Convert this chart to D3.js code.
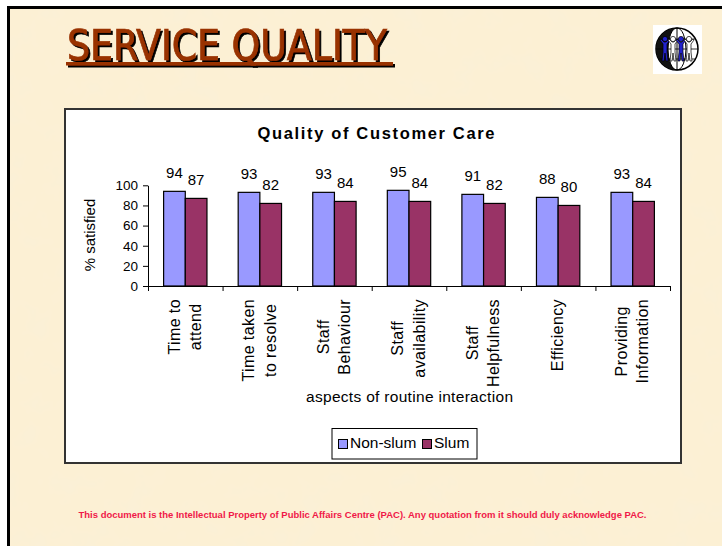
<!DOCTYPE html>
<html>
<head>
<meta charset="utf-8">
<script src="https://cdn.jsdelivr.net/npm/d3@7"></script>
<style>
    body { margin: 0; background: #fff; }
    svg { display: block; }
    text { font-family: "Liberation Sans", Arial, sans-serif; fill: #000; }
    .axis text { font-size: 13.5px; }
    .axis path, .axis line { stroke: #000; }
</style>
</head>
<body>
<svg id="plate" width="722" height="546"></svg>
<script>
// chart values
var categories = ['Time to|attend', 'Time taken|to resolve', 'Staff|Behaviour', 'Staff|availability', 'Staff|Helpfulness', 'Efficiency', 'Providing|Information'];
var nonSlum = [94, 93, 93, 95, 91, 88, 93];
var slum = [87, 82, 84, 84, 82, 80, 84];
var seriesNames = ['Non-slum', 'Slum'];
var seriesColors = ['#9999FF', '#993366'];
var yTicks = [0, 20, 40, 60, 80, 100];

var svg = d3.select('#plate');
var defs = svg.append('defs');

// parchment texture
var filt = defs.append('filter').attr('id', 'parch')
    .attr('x', 0).attr('y', 0).attr('width', '100%').attr('height', '100%');
filt.append('feTurbulence')
    .attr('type', 'fractalNoise')
    .attr('baseFrequency', '0.04')
    .attr('numOctaves', 3)
    .attr('seed', 7);
filt.append('feColorMatrix')
    .attr('type', 'matrix')
    .attr('values', '0 0 0 0 0.95  0 0 0 0 0.87  0 0 0 0 0.70  1.2 0 0 0 -0.58');

// title shadow
var shadow = defs.append('filter').attr('id', 'shadow')
    .attr('x', '-5%').attr('y', '-10%').attr('width', '110%').attr('height', '130%');
shadow.append('feOffset').attr('in', 'SourceAlpha').attr('dx', 2).attr('dy', 2).attr('result', 'off');
shadow.append('feFlood').attr('flood-color', '#000');
shadow.append('feComposite').attr('in2', 'off').attr('operator', 'in').attr('result', 'sh');
var merge = shadow.append('feMerge');
merge.append('feMergeNode').attr('in', 'sh');
merge.append('feMergeNode').attr('in', 'SourceGraphic');

svg.append('rect')
    .attr('x', 7).attr('y', 6).attr('width', 715).attr('height', 540)
    .attr('fill', '#FCF0D4');
svg.append('rect')
    .attr('x', 7).attr('y', 6).attr('width', 715).attr('height', 540)
    .attr('filter', 'url(#parch)');
svg.append('rect').attr('x', 7).attr('y', 6).attr('width', 715).attr('height', 3).attr('fill', '#000');
svg.append('rect').attr('x', 7).attr('y', 6).attr('width', 3).attr('height', 540).attr('fill', '#000');

// slide title with shadow and underline
var head = svg.append('g').attr('filter', 'url(#shadow)');
head.append('text')
    .attr('x', 67).attr('y', 60)
    .attr('textLength', 320).attr('lengthAdjust', 'spacingAndGlyphs')
    .style('font-family', '"Liberation Sans Narrow", "DejaVu Sans Condensed", sans-serif')
    .style('font-size', '42px')
    .style('fill', '#993300')
    .style('stroke', '#993300').style('stroke-width', 0.7)
    .text('SERVICE QUALITY');
head.append('rect')
    .attr('x', 66).attr('y', 62).attr('width', 327).attr('height', 3.5)
    .attr('fill', '#993300');

// logo
var logo = svg.append('g').attr('transform', 'translate(677,49)');
logo.append('rect').attr('x', -24).attr('y', -24).attr('width', 49).attr('height', 49).attr('fill', '#fff');
logo.append('circle').attr('r', 21).attr('fill', '#fff').attr('stroke', '#000').attr('stroke-width', 1.5);
logo.append('path').attr('d', 'M0,-21 A21,21 0 0,0 0,21 A9,21 0 0,1 0,-21Z').attr('fill', '#111');
logo.append('ellipse').attr('rx', 9).attr('ry', 21).attr('fill', 'none').attr('stroke', '#000');
logo.append('line').attr('x1', 0).attr('x2', 0).attr('y1', -21).attr('y2', 21).attr('stroke', '#000');
[-10, 0, 10].forEach(function (h) {
    var w = Math.sqrt(21 * 21 - h * h);
    logo.append('line').attr('x1', -w).attr('x2', w).attr('y1', h).attr('y2', h).attr('stroke', '#000').attr('stroke-width', 0.8);
});
[[-12, '#2222cc'], [-4, '#fff'], [4, '#2222cc'], [12, '#fff']].forEach(function (f) {
    var p = logo.append('g').attr('transform', 'translate(' + f[0] + ',0)');
    p.append('circle').attr('cy', -10).attr('r', 2.6).attr('fill', f[1]).attr('stroke', '#000').attr('stroke-width', 0.7);
    p.append('path')
        .attr('d', 'M-5,-9 L-2,-5 L-2,3 L-3,12 L-1,12 L0,4 L1,12 L3,12 L2,3 L2,-5 L5,-9 L4,-10 L1,-7 L-1,-7 L-4,-10Z')
        .attr('fill', f[1]).attr('stroke', '#000').attr('stroke-width', 0.7);
});

// chart frame
svg.append('rect')
    .attr('x', 65).attr('y', 109).attr('width', 616).attr('height', 354)
    .attr('fill', '#fff').attr('stroke', '#333').attr('stroke-width', 2);

svg.append('text')
    .attr('x', 376).attr('y', 138.5)
    .attr('text-anchor', 'middle')
    .attr('textLength', 237).attr('lengthAdjust', 'spacing')
    .style('font-weight', 'bold').style('font-size', '16.5px')
    .text('Quality of Customer Care');

// scales
var x = d3.scaleBand().domain(d3.range(categories.length)).range([148, 670]);
var xs = d3.scaleBand().domain(seriesNames).range([0, x.bandwidth()]).paddingOuter(0.72);
var y = d3.scaleLinear().domain([0, 100]).range([286, 185.3]);
var xEdges = d3.scaleLinear().domain([0, categories.length]).range([148, 670]);

var rows = categories.map(function (c, i) {
    return {i: i, values: [nonSlum[i], slum[i]]};
});

// bars
var grp = svg.append('g').selectAll('g').data(rows).join('g')
    .attr('transform', function (d) { return 'translate(' + x(d.i) + ',0)'; });
grp.selectAll('rect')
    .data(function (d) { return d.values.map(function (v, k) { return {k: k, v: v}; }); })
    .join('rect')
    .attr('x', function (d) { return xs(seriesNames[d.k]); })
    .attr('y', function (d) { return y(d.v); })
    .attr('width', xs.bandwidth())
    .attr('height', function (d) { return y(0) - y(d.v); })
    .attr('fill', function (d) { return seriesColors[d.k]; })
    .attr('stroke', '#000').attr('stroke-width', 1.2);
grp.selectAll('text')
    .data(function (d) { return d.values.map(function (v, k) { return {k: k, v: v}; }); })
    .join('text')
    .attr('x', function (d) { return xs(seriesNames[d.k]) + xs.bandwidth() / 2; })
    .attr('y', function (d) { return y(d.v) - 13; })
    .attr('text-anchor', 'middle')
    .style('font-size', '15px')
    .text(function (d) { return d.v; });

// axes
svg.append('g')
    .attr('class', 'axis')
    .attr('transform', 'translate(148,0)')
    .call(d3.axisLeft(y).tickValues(yTicks).tickSize(5).tickSizeOuter(0).tickPadding(5));
svg.append('g')
    .attr('class', 'axis')
    .attr('transform', 'translate(0,286)')
    .call(d3.axisBottom(xEdges).tickValues(d3.range(categories.length + 1)).tickFormat('').tickSize(5).tickSizeOuter(0));

// category labels, rotated
var labs = svg.append('g').selectAll('g').data(categories).join('g');
labs.each(function (c, ci) {
    var lines = c.split('|');
    var g = d3.select(this);
    var maxLen = 0;
    lines.forEach(function (t, i) {
        var el = g.append('text')
            .attr('x', 0)
            .attr('y', (i - (lines.length - 1) / 2) * 21.5 + 5)
            .attr('text-anchor', 'middle')
            .attr('letter-spacing', 0.4)
            .style('font-size', '16px')
            .text(t);
        maxLen = Math.max(maxLen, el.node().getComputedTextLength());
    });
    g.attr('transform', 'translate(' + (x(ci) + x.bandwidth() / 2) + ',' + (299 + maxLen / 2) + ') rotate(-90)');
});

// axis titles
svg.append('text')
    .attr('transform', 'translate(95,235) rotate(-90)')
    .attr('text-anchor', 'middle')
    .style('font-size', '15px')
    .text('% satisfied');
svg.append('text')
    .attr('x', 409.5).attr('y', 402)
    .attr('text-anchor', 'middle')
    .attr('textLength', 207).attr('lengthAdjust', 'spacing')
    .style('font-size', '15.5px')
    .text('aspects of routine interaction');

// legend
var leg = svg.append('g');
leg.append('rect')
    .attr('x', 332).attr('y', 428.5).attr('width', 145).attr('height', 30.5)
    .attr('fill', '#fff').attr('stroke', '#000').attr('stroke-width', 1);
var legX = [338.5, 422.5];
seriesNames.forEach(function (n, k) {
    leg.append('rect')
        .attr('x', legX[k]).attr('y', 439.5).attr('width', 9).attr('height', 9)
        .attr('fill', seriesColors[k]).attr('stroke', '#000').attr('stroke-width', 1);
    leg.append('text')
        .attr('x', legX[k] + 11.5).attr('y', 448)
        .style('font-size', '15.5px')
        .text(n);
});

// footer note
svg.append('text')
    .attr('x', 362.5).attr('y', 518)
    .attr('text-anchor', 'middle')
    .attr('textLength', 568).attr('lengthAdjust', 'spacingAndGlyphs')
    .style('font-weight', 'bold').style('font-size', '9.5px')
    .style('fill', '#F01848')
    .text('This document is the Intellectual Property of Public Affairs Centre (PAC). Any quotation from it should duly acknowledge PAC.');
</script>
</body>
</html>
